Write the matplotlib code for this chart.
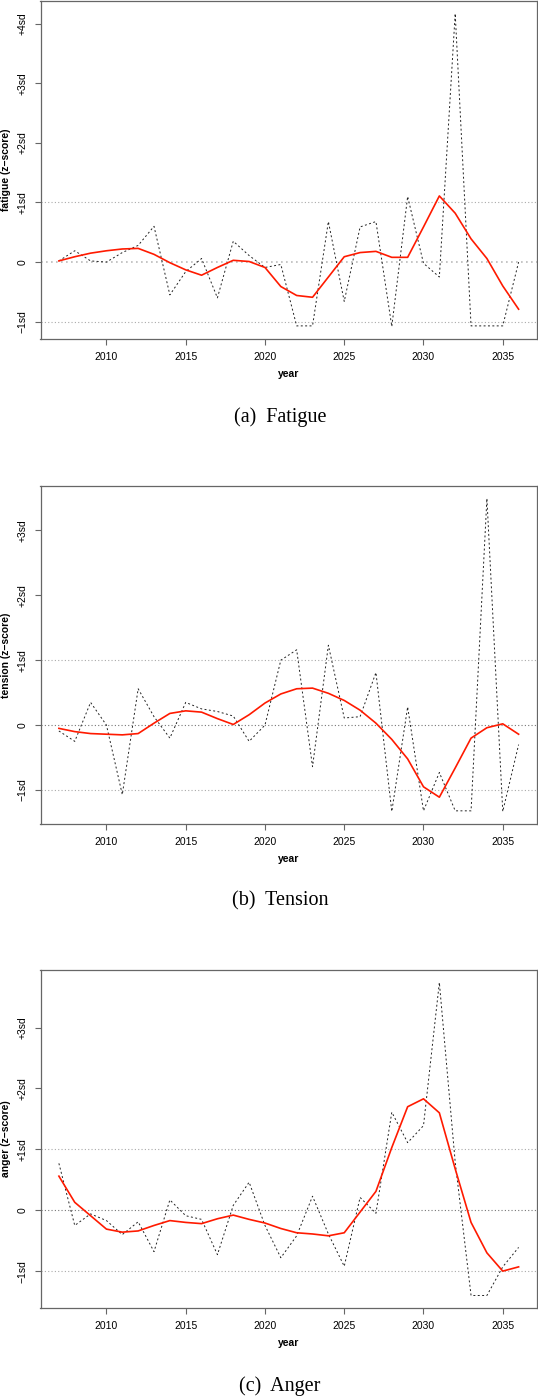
"""Three z-score panels (fatigue, tension, anger) with smoothed trend."""
import matplotlib
matplotlib.use("Agg")
import matplotlib.pyplot as plt
import numpy as np

years = list(range(2007, 2037))

fatigue_raw = [0.02, 0.19, 0.02, 0.00, 0.16, 0.28, 0.60, -0.55, -0.16, 0.06,
               -0.60, 0.35, 0.11, -0.09, -0.04, -1.07, -1.07, 0.68, -0.66, 0.59,
               0.68, -1.08, 1.10, -0.02, -0.25, 4.17, -1.07, -1.07, -1.07, 0.00]
fatigue_smooth = [0.02, 0.09, 0.15, 0.19, 0.22, 0.23, 0.13, -0.01, -0.13, -0.22,
                  -0.09, 0.03, 0.01, -0.09, -0.41, -0.56, -0.59, -0.25, 0.09, 0.16,
                  0.18, 0.08, 0.08, 0.59, 1.11, 0.82, 0.39, 0.06, -0.40, -0.79]

tension_raw = [-0.09, -0.25, 0.35, 0.00, -1.07, 0.56, 0.13, -0.20, 0.35, 0.25,
               0.21, 0.14, -0.25, 0.00, 1.00, 1.16, -0.64, 1.23, 0.11, 0.13,
               0.81, -1.33, 0.28, -1.32, -0.73, -1.32, -1.32, 3.49, -1.33, -0.30]
tension_smooth = [-0.05, -0.10, -0.13, -0.14, -0.15, -0.13, 0.03, 0.18, 0.22, 0.20,
                  0.10, 0.01, 0.16, 0.34, 0.48, 0.56, 0.57, 0.49, 0.38, 0.23,
                  0.03, -0.22, -0.52, -0.95, -1.11, -0.66, -0.20, -0.04, 0.02, -0.14]

anger_raw = [0.77, -0.25, -0.06, -0.17, -0.40, -0.19, -0.68, 0.17, -0.09, -0.15,
             -0.73, 0.08, 0.46, -0.25, -0.78, -0.42, 0.23, -0.39, -0.92, 0.21,
             -0.05, 1.61, 1.11, 1.39, 3.74, 0.79, -1.40, -1.40, -0.93, -0.61]
anger_smooth = [0.56, 0.13, -0.09, -0.31, -0.36, -0.34, -0.25, -0.17, -0.20, -0.22,
                -0.14, -0.08, -0.15, -0.21, -0.30, -0.37, -0.39, -0.42, -0.37, -0.03,
                0.31, 1.03, 1.70, 1.83, 1.60, 0.68, -0.20, -0.70, -1.00, -0.93]

panels = [
    ("fatigue", "(a)  Fatigue", fatigue_raw, fatigue_smooth),
    ("tension", "(b)  Tension", tension_raw, tension_smooth),
    ("anger", "(c)  Anger", anger_raw, anger_smooth),
]

W, H = 538, 1398
# (axes top px, axes bottom px, caption centre px)
layout = [(1, 339, 417), (486, 824, 901), (970, 1308, 1386)]
AX_L, AX_R = 40.5, 537

SANS = "Liberation Sans"
SERIF = "Liberation Serif"
FRAME = "#666666"

fig = plt.figure(figsize=(W / 100, H / 100), dpi=100)

for (name, caption, raw, smooth), (top, bot, cap_y) in zip(panels, layout):
    ax = fig.add_axes([AX_L / W, 1 - bot / H, (AX_R - AX_L) / W, (bot - top) / H])

    # R-style 4% padding on both axes
    x0, x1 = min(years), max(years)
    y0, y1 = min(raw), max(raw)
    dx, dy = (x1 - x0) * 0.04, (y1 - y0) * 0.04
    ax.set_xlim(x0 - dx, x1 + dx)
    ax.set_ylim(y0 - dy, y1 + dy)

    zero_col = "#bbbbbb" if name == "fatigue" else "#777777"
    zero_lw = 1.2 if name == "fatigue" else 0.8
    ax.axhline(0, color=zero_col, lw=zero_lw, ls=(0, (1, 2)), zorder=1)
    for v in (-1, 1):
        ax.axhline(v, color="#aaaaaa", lw=0.8, ls=(0, (1, 2)), zorder=1)

    ax.plot(years, raw, color="#222222", lw=0.7, ls=(0, (2, 2.5)), zorder=2)
    ax.plot(years, smooth, color="#ff1a00", lw=1.2, zorder=3)

    ax.set_xticks([2010, 2015, 2020, 2025, 2030, 2035])
    sd_ticks = [t for t in range(-1, 5) if y0 - dy <= t <= y1 + dy]
    ax.set_yticks(sd_ticks)
    ax.set_yticklabels(["0" if t == 0 else ("\u2212%dsd" % -t if t < 0 else "+%dsd" % t)
                        for t in sd_ticks],
                       rotation=90, va="center")

    ax.tick_params(axis="both", direction="out", length=4.5, width=0.8,
                   color=FRAME, labelsize=7.5)
    ax.tick_params(axis="x", pad=5)
    ax.tick_params(axis="y", pad=4.5)
    for lab in ax.get_xticklabels() + ax.get_yticklabels():
        lab.set_fontfamily(SANS)

    for sp in ax.spines.values():
        sp.set_color(FRAME)
        sp.set_linewidth(0.9)

    ax.set_xlabel("year", fontsize=7.5, fontweight="bold", family=SANS)
    ax.xaxis.set_label_coords(0.5, -35 / (bot - top))
    ax.xaxis.label.set_va("center")
    ax.set_ylabel(name + " (z\u2212score)", fontsize=7.5, fontweight="bold", family=SANS)
    ax.yaxis.set_label_coords(-(AX_L - 6) / (AX_R - AX_L), 0.5)
    ax.yaxis.label.set_va("center")

    fig.text(280 / W, 1 - cap_y / H, caption, ha="center", va="center",
             family=SERIF, fontsize=14.5)

fig.savefig("out.png", dpi=100)
